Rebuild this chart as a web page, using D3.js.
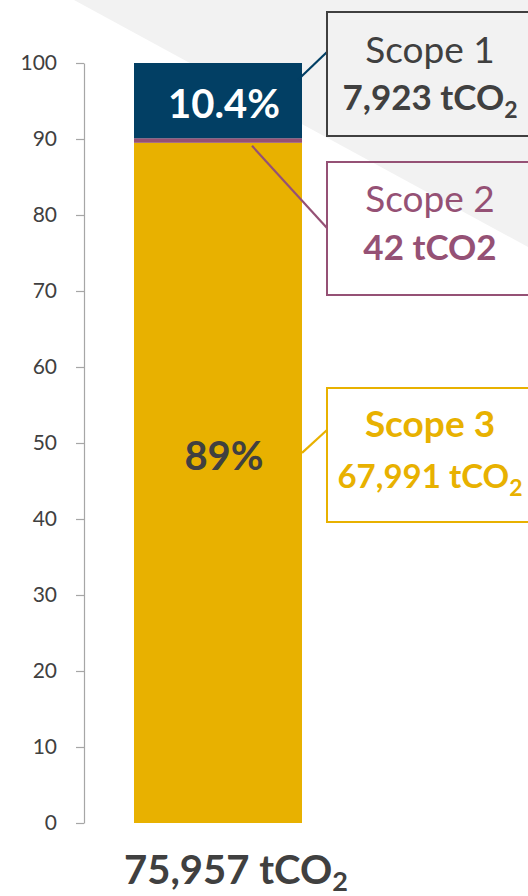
<!DOCTYPE html>
<html>
<head>
<meta charset="utf-8">
<script src="https://cdn.jsdelivr.net/npm/d3@7"></script>
<style>
  html, body { margin: 0; padding: 0; background: #fff; }
  svg { display: block; font-family: Lato, "Open Sans", sans-serif; }
</style>
</head>
<body>
<div class="chart"></div>
<script>
// data
const scopes = ['Scope 3', 'Scope 2', 'Scope 1'];          // bottom to top
const shares = [89.5, 0.6, 9.9];                            // drawn heights, % of total
const emissions = ['67,991', '42', '7,923'];                // tCO2 per scope
const percentLabels = ['89%', '', '10.4%'];
const percentAt = [48.4, null, 94.6];                       // where the % label sits on the axis
const totalLabel = '75,957';
const colors = ['#e8b100', '#955175', '#023f64'];

const w = 528;
const h = 896;

const svg = d3.select('.chart')
  .append('svg')
  .attr('width', w)
  .attr('height', h);

// grey corner in the background
svg.append('path')
  .attr('d', 'M74,0 L528,0 L528,247 Z')
  .attr('fill', '#f2f2f2');

const y = d3.scaleLinear()
  .domain([0, 100])
  .range([823, 63]);

const x = d3.scaleBand()
  .domain(['total'])
  .range([134, 302])
  .padding(0);

const row = {};
scopes.forEach((s, i) => { row[s] = shares[i]; });
const stacked = d3.stack().keys(scopes)([row]);

svg.append('g')
  .attr('class', 'y-axis')
  .attr('transform', 'translate(84, 0)')
  .call(d3.axisLeft(y).ticks(10).tickSize(8).tickSizeOuter(0).tickPadding(19))
  .call((g) => {
    g.selectAll('path, line').attr('stroke', '#a6a6a6').attr('stroke-width', 1.2);
    g.selectAll('text').attr('fill', '#404040').style('font-size', '21px').attr('font-family', 'Lato');
  });

svg.selectAll('rect.seg')
  .data(stacked)
  .enter()
  .append('rect')
  .attr('class', 'seg')
  .attr('x', x('total'))
  .attr('width', x.bandwidth())
  .attr('y', (d) => y(d[0][1]))
  .attr('height', (d) => y(d[0][0]) - y(d[0][1]))
  .attr('fill', (d, i) => colors[i]);

// percentages inside the bar
svg.selectAll('text.pct')
  .data(stacked.filter((d, i) => percentLabels[i]))
  .enter()
  .append('text')
  .attr('class', 'pct')
  .attr('x', x('total') + x.bandwidth() / 2 + 6)
  .attr('y', (d) => y(percentAt[d.index]))
  .attr('dy', '0.36em')
  .attr('text-anchor', 'middle')
  .attr('font-weight', 700)
  .style('font-size', '40px')
  .attr('fill', (d) => d.index === 2 ? '#ffffff' : '#404040')
  .text((d) => percentLabels[d.index]);

// callouts: box position, text baselines and where the leader line leaves the bar
const callouts = [
  { i: 2, top: 12, bottom: 136, hit: 52, from: [298, 97.8], titleY: 63, valueY: 110, titleWeight: 400, color: '#404040', sub: true },
  { i: 1, top: 162, bottom: 295, hit: 228, from: [252, 89.1], titleY: 212, valueY: 260, titleWeight: 400, color: '#955175', sub: false },
  { i: 0, top: 388, bottom: 522, hit: 430, from: [302, 48.7], titleY: 437, valueY: 488, titleWeight: 700, color: '#e8b100', sub: true }
];
const boxLeft = 327;
const boxRight = 540;
const textX = 430;

callouts.forEach((c) => {
  const g = svg.append('g');
  g.append('line')
    .attr('x1', c.from[0])
    .attr('y1', y(c.from[1]))
    .attr('x2', boxLeft)
    .attr('y2', c.hit)
    .attr('stroke', colors[c.i])
    .attr('stroke-width', 2.2);
  g.append('rect')
    .attr('x', boxLeft)
    .attr('y', c.top)
    .attr('width', boxRight - boxLeft)
    .attr('height', c.bottom - c.top)
    .attr('fill', 'none')
    .attr('stroke', c.i === 2 ? '#404040' : colors[c.i])
    .attr('stroke-width', 2);
  g.append('text')
    .attr('x', textX)
    .attr('y', c.titleY)
    .attr('text-anchor', 'middle')
    .attr('font-weight', c.titleWeight)
    .style('font-size', '37px')
    .attr('fill', c.color)
    .text(scopes[c.i]);
  const v = g.append('text')
    .attr('x', textX)
    .attr('y', c.valueY)
    .attr('text-anchor', 'middle')
    .attr('font-weight', 700)
    .style('font-size', c.i === 0 ? '33px' : '35px')
    .attr('fill', c.color);
  if (c.sub) {
    v.append('tspan').text(emissions[c.i] + ' tCO');
    v.append('tspan').attr('dy', 8).style('font-size', '23px').text('2');
  } else {
    v.append('tspan').text(emissions[c.i] + ' tCO2');
  }
});

// total under the bar
const total = svg.append('text')
  .attr('x', 236)
  .attr('y', 884)
  .attr('text-anchor', 'middle')
  .attr('font-weight', 700)
  .style('font-size', '40px')
  .attr('fill', '#404040');
total.append('tspan').text(totalLabel + ' tCO');
total.append('tspan').attr('dy', 7).style('font-size', '27px').text('2');
</script>
</body>
</html>
